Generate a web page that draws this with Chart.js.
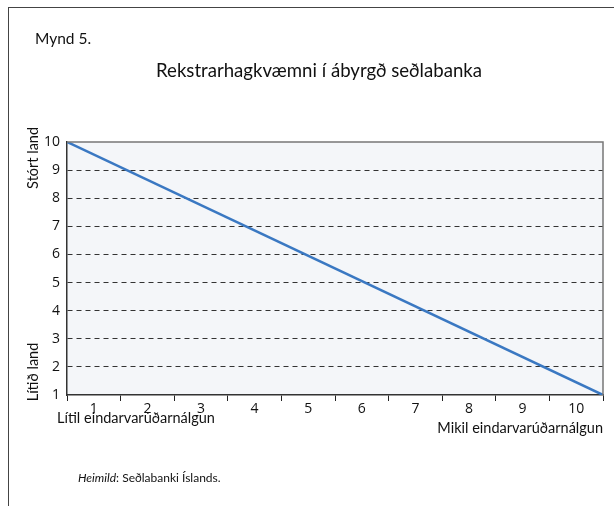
<!DOCTYPE html>
<html>
<head>
<meta charset="utf-8">
<script src="https://cdn.jsdelivr.net/npm/chart.js@4"></script>
<style>
    body { margin: 0; background: #fff; }
    #wrap { position: relative; width: 614px; height: 506px; }
    #frame { position: absolute; left: 8px; top: 7px; width: 620px; height: 520px;
             border-left: 1px solid #444; border-top: 1px solid #444; }
    canvas { position: absolute; left: 0; top: 0; }
</style>
</head>
<body>
<div id="wrap">
    <div id="frame"></div>
    <canvas id="myChart" width="614" height="506"></canvas>
</div>
<script>
// categories along the bottom (labels sit between tick marks)
var categories = ['1', '2', '3', '4', '5', '6', '7', '8', '9', '10'];
// the straight line: from the left edge (x=0) at 10 down to the right edge (x=10) at 1
var lineX = [0, 10];
var lineY = [10, 1];

var figLabel = 'Mynd 5.';
var titleText = 'Rekstrarhagkvæmni í ábyrgð seðlabanka';
var yTopLabel = 'Stórt land';
var yBottomLabel = 'Lítið land';
var xLeftLabel = 'Lítil eindarvarúðarnálgun';
var xRightLabel = 'Mikil eindarvarúðarnálgun';
var sourceItalic = 'Heimild';
var sourceRest = ': Seðlabanki Íslands.';

var FONT = 'Lato, sans-serif';
var TICKFONT = '"Open Sans", sans-serif';

var linePoints = lineX.map(function(x, i) { return {x: x, y: lineY[i]}; });

// background of plot area + extra axis labels drawn as text
var extras = {
    id: 'extras',
    beforeDraw: function(chart) {
        var ctx = chart.ctx, a = chart.chartArea;
        ctx.save();
        ctx.fillStyle = '#f4f6f9';
        ctx.fillRect(a.left, a.top, a.right - a.left, a.bottom - a.top);
        ctx.restore();
    },
    afterDraw: function(chart) {
        var ctx = chart.ctx, a = chart.chartArea;
        ctx.save();
        // border on top and right of plot
        ctx.strokeStyle = '#777';
        ctx.lineWidth = 1.5;
        ctx.beginPath();
        ctx.moveTo(a.left, a.top);
        ctx.lineTo(a.right, a.top);
        ctx.lineTo(a.right, a.bottom);
        ctx.stroke();

        ctx.fillStyle = '#111';
        ctx.font = '14.5px ' + FONT;
        ctx.textBaseline = 'middle';
        ctx.textAlign = 'center';
        // rotated labels on the left
        ctx.save();
        ctx.translate(33, a.top + 16);
        ctx.rotate(-Math.PI / 2);
        ctx.fillText(yTopLabel, 0, 0);
        ctx.restore();
        ctx.save();
        ctx.translate(33, a.bottom - 23);
        ctx.rotate(-Math.PI / 2);
        ctx.fillText(yBottomLabel, 0, 0);
        ctx.restore();

        // labels under x axis
        ctx.textAlign = 'left';
        ctx.fillText(xLeftLabel, a.left - 10, a.bottom + 23);
        ctx.textAlign = 'right';
        ctx.fillText(xRightLabel, a.right, a.bottom + 33);

        // source line
        ctx.textAlign = 'left';
        ctx.font = 'italic 12px ' + FONT;
        ctx.fillText(sourceItalic, 78, 478);
        var w = ctx.measureText(sourceItalic).width;
        ctx.font = '12px ' + FONT;
        ctx.fillText(sourceRest, 78 + w, 478);
        ctx.restore();
    }
};

var chart = new Chart('myChart', {
    type: 'line',
    data: {
        labels: categories,
        datasets: [{
            data: linePoints,
            xAxisID: 'x',
            borderColor: '#3a78c2',
            borderWidth: 2.5,
            pointRadius: 0,
            fill: false,
            tension: 0
        }]
    },
    options: {
        responsive: false,
        animation: false,
        layout: { padding: { top: 30, left: 35, right: 11, bottom: 0 } },
        plugins: {
            legend: { display: false },
            tooltip: { enabled: false },
            title: {
                display: true,
                text: figLabel,
                align: 'start',
                color: '#111',
                font: { family: FONT, size: 15.5, weight: 'normal' },
                padding: { top: 0, bottom: 11 }
            },
            subtitle: {
                display: true,
                text: titleText,
                align: 'center',
                color: '#111',
                font: { family: FONT, size: 18.6, weight: 'normal' },
                padding: { top: 0, bottom: 60 }
            }
        },
        scales: {
            x: {
                type: 'linear',
                min: 0,
                max: 10,
                display: false
            },
            x2: {
                type: 'category',
                position: 'bottom',
                labels: categories,
                offset: true,
                grid: {
                    offset: true,
                    drawOnChartArea: false,
                    drawTicks: true,
                    tickLength: 6,
                    tickColor: '#222',
                    color: '#222'
                },
                border: { color: '#333', width: 1.5 },
                ticks: {
                    color: '#111',
                    padding: 0,
                    maxRotation: 0,
                    font: { family: TICKFONT, size: 14 }
                },
                afterFit: function(scale) { scale.height = 111; }
            },
            y: {
                min: 1,
                max: 10,
                ticks: {
                    stepSize: 1,
                    color: '#111',
                    padding: 7,
                    font: { family: TICKFONT, size: 14 }
                },
                grid: {
                    drawTicks: false,
                    color: function(c) {
                        if (c.tick.value === 1 || c.tick.value === 10) return 'rgba(0,0,0,0)';
                        return '#333';
                    },
                    lineWidth: 1
                },
                // in v4 border.dash sets the dash of the grid lines
                border: { color: '#333', width: 1.5, dash: [5, 4] },
                afterFit: function(scale) { scale.width = 32; }
            }
        }
    },
    plugins: [extras]
});
</script>
</body>
</html>
